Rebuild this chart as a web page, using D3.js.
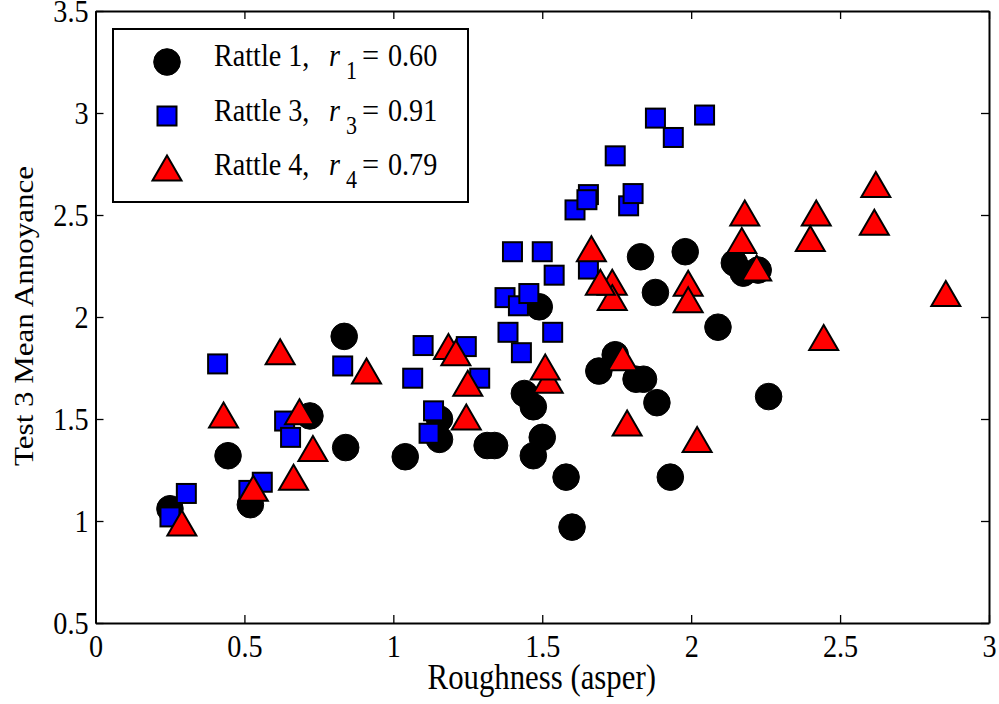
<!DOCTYPE html>
<html>
<head>
<meta charset="utf-8">
<script src="https://cdn.jsdelivr.net/npm/d3@7"></script>
<style>
  html, body { margin: 0; padding: 0; background: #fff; }
  svg { display: block; }
  text { font-family: "Liberation Serif", "Times New Roman", serif; fill: #000; }
</style>
</head>
<body>
<svg id="chart" width="999" height="704"></svg>
<script>
// Roughness (asper) vs. Test 3 mean annoyance for three rattle sounds
const rattle1X = [0.25, 0.445, 0.52, 0.72, 0.835, 0.84, 1.04, 1.155, 1.155, 1.315, 1.34, 1.44, 1.47, 1.50, 1.47, 1.49,
                  1.58, 1.60, 1.69, 1.745, 1.815, 1.84, 1.885, 1.93, 1.83, 1.88, 1.98, 2.09, 2.145, 2.175, 2.225, 2.26];
const rattle1Y = [1.06, 1.32, 1.08, 1.515, 1.905, 1.36, 1.315, 1.40, 1.50, 1.37, 1.37, 1.625, 1.56, 1.41, 1.32, 2.05,
                  1.215, 0.97, 1.735, 1.815, 1.695, 1.695, 1.58, 1.215, 2.295, 2.12, 2.32, 1.95, 2.265, 2.215, 2.23, 1.61];

const rattle3X = [0.25, 0.305, 0.41, 0.515, 0.56, 0.635, 0.655, 0.83, 1.065, 1.10, 1.12, 1.135, 1.245, 1.29, 1.375, 1.385,
                  1.40, 1.42, 1.43, 1.455, 1.50, 1.535, 1.54, 1.61, 1.655, 1.65, 1.655, 1.745, 1.79, 1.805, 1.88, 1.94, 2.045];
const rattle3Y = [1.02, 1.135, 1.77, 1.15, 1.19, 1.49, 1.41, 1.76, 1.70, 1.86, 1.43, 1.54, 1.855, 1.70, 2.095, 1.925,
                  2.32, 2.055, 1.825, 2.115, 2.32, 1.925, 2.205, 2.525, 2.60, 2.575, 2.235, 2.79, 2.545, 2.605, 2.975, 2.88, 2.99];

const rattle4X = [0.29, 0.43, 0.53, 0.62, 0.665, 0.685, 0.73, 0.91, 1.185, 1.21, 1.25, 1.245, 1.52, 1.51, 1.665, 1.735,
                  1.735, 1.695, 1.77, 1.785, 1.99, 1.99, 2.02, 2.18, 2.17, 2.22, 2.42, 2.40, 2.445, 2.615, 2.62, 2.855];
const rattle4Y = [0.99, 1.52, 1.16, 1.83, 1.215, 1.535, 1.355, 1.735, 1.855, 1.825, 1.675, 1.51, 1.69, 1.755, 2.335, 2.17,
                  2.095, 2.17, 1.80, 1.48, 2.165, 2.085, 1.40, 2.51, 2.375, 2.24, 2.51, 2.385, 1.90, 2.465, 2.65, 2.115];

const xTicks = [0, 0.5, 1, 1.5, 2, 2.5, 3];
const yTicks = [0.5, 1, 1.5, 2, 2.5, 3, 3.5];
const xTickLabels = ["0", "0.5", "1", "1.5", "2", "2.5", "3"];
const yTickLabels = ["0.5", "1", "1.5", "2", "2.5", "3", "3.5"];

const seriesNames = ["Rattle 1,", "Rattle 3,", "Rattle 4,"];
const rSubscripts = ["1", "3", "4"];
const rValues = ["0.60", "0.91", "0.79"];

const xLabel = "Roughness (asper)";
const yLabel = "Test 3 Mean Annoyance";

// ---- layout ----
const plot = { left: 95.5, right: 989, top: 11, bottom: 623 };
const squeeze = 0.88;          // narrow serif look
const tickFont = 32;
const tickLen = 8;

const svg = d3.select("#chart");
const x = d3.scaleLinear().domain([0, 3]).range([plot.left, plot.right]);
const y = d3.scaleLinear().domain([0.5, 3.5]).range([plot.bottom, plot.top]);

function styleAxis(g, showLabels) {
  g.select(".domain").attr("stroke", "#000").attr("stroke-width", 2);
  g.selectAll(".tick line").attr("stroke", "#000").attr("stroke-width", 1.3);
  if (!showLabels) g.selectAll(".tick text").remove();
  g.selectAll(".tick text")
    .attr("font-family", "Liberation Serif, Times New Roman, serif")
    .attr("font-size", tickFont)
    .attr("fill", "#000");
}

// bottom axis with labels
const gx = svg.append("g").attr("transform", `translate(0,${plot.bottom})`)
  .call(d3.axisBottom(x).tickValues(xTicks).tickFormat((d, i) => xTickLabels[i])
    .tickSizeInner(-tickLen).tickSizeOuter(0));
styleAxis(gx, true);
gx.selectAll(".tick text").attr("y", 0).attr("dy", null)
  .attr("transform", `translate(0,34) scale(${squeeze},1)`);

// top axis (ticks only)
const gxt = svg.append("g").attr("transform", `translate(0,${plot.top})`)
  .call(d3.axisTop(x).tickValues(xTicks).tickSizeInner(-tickLen).tickSizeOuter(0));
styleAxis(gxt, false);

// left axis with labels
const gy = svg.append("g").attr("transform", `translate(${plot.left},0)`)
  .call(d3.axisLeft(y).tickValues(yTicks).tickFormat((d, i) => yTickLabels[i])
    .tickSizeInner(-tickLen).tickSizeOuter(0));
styleAxis(gy, true);
gy.selectAll(".tick text").attr("x", 0).attr("dy", null)
  .attr("transform", `translate(-7,10.5) scale(${squeeze},1)`);

// right axis (ticks only)
const gyr = svg.append("g").attr("transform", `translate(${plot.right},0)`)
  .call(d3.axisRight(y).tickValues(yTicks).tickSizeInner(-tickLen).tickSizeOuter(0));
styleAxis(gyr, false);

// axis titles
svg.append("text")
  .attr("transform", `translate(${(plot.left + plot.right) / 2 - 0.5},689) scale(${squeeze},1)`)
  .attr("text-anchor", "middle").attr("font-size", 35).text(xLabel);

svg.append("text")
  .attr("transform", `translate(33,316) scale(${squeeze},1) rotate(-90)`)
  .attr("text-anchor", "middle").attr("font-size", 31).text(yLabel);

// ---- markers ----
const circleR = 13.3;
const squareSide = 19;
const triW = 29, triH = 25;
const triPath = `M0,${-triH / 2}L${triW / 2},${triH / 2}L${-triW / 2},${triH / 2}Z`;

function drawCircle(g, cx, cy) {
  g.append("circle").attr("cx", cx).attr("cy", cy).attr("r", circleR)
    .attr("fill", "#000").attr("stroke", "#000").attr("stroke-width", 1);
}
function drawSquare(g, cx, cy) {
  g.append("rect").attr("x", cx - squareSide / 2).attr("y", cy - squareSide / 2)
    .attr("width", squareSide).attr("height", squareSide)
    .attr("fill", "#0000ff").attr("stroke", "#000").attr("stroke-width", 2);
}
function drawTriangle(g, cx, cy) {
  g.append("path").attr("d", triPath).attr("transform", `translate(${cx},${cy})`)
    .attr("fill", "#ff0000").attr("stroke", "#000").attr("stroke-width", 2)
    .attr("stroke-linejoin", "miter");
}

const marks = svg.append("g");
const g1 = marks.append("g");
rattle1X.forEach((v, i) => drawCircle(g1, x(v), y(rattle1Y[i])));
const g3 = marks.append("g");
rattle3X.forEach((v, i) => drawSquare(g3, x(v), y(rattle3Y[i])));
const g4 = marks.append("g");
rattle4X.forEach((v, i) => drawTriangle(g4, x(v), y(rattle4Y[i])));

// ---- legend ----
const legend = svg.append("g");
legend.append("rect").attr("x", 113).attr("y", 29).attr("width", 355).attr("height", 173)
  .attr("fill", "#fff").attr("stroke", "#000").attr("stroke-width", 2);

const markerRows = [62, 116, 168];
const textRows = [66, 121, 175];
const drawers = [drawCircle, drawSquare, drawTriangle];
seriesNames.forEach((name, i) => {
  drawers[i](legend, 167, markerRows[i]);
  const by = textRows[i];
  legend.append("text").attr("transform", `translate(214,${by}) scale(${squeeze},1)`)
    .attr("font-size", 32).text(name);
  legend.append("text").attr("transform", `translate(329,${by}) scale(${squeeze},1)`)
    .attr("font-size", 32).attr("font-style", "italic").text("r");
  legend.append("text").attr("transform", `translate(346,${by + 13}) scale(${squeeze},1)`)
    .attr("font-size", 25).text(rSubscripts[i]);
  legend.append("text").attr("transform", `translate(362,${by}) scale(0.95,1)`)
    .attr("font-size", 32).text("=");
  legend.append("text").attr("transform", `translate(388,${by}) scale(${squeeze},1)`)
    .attr("font-size", 32).text(rValues[i]);
});
</script>
</body>
</html>
